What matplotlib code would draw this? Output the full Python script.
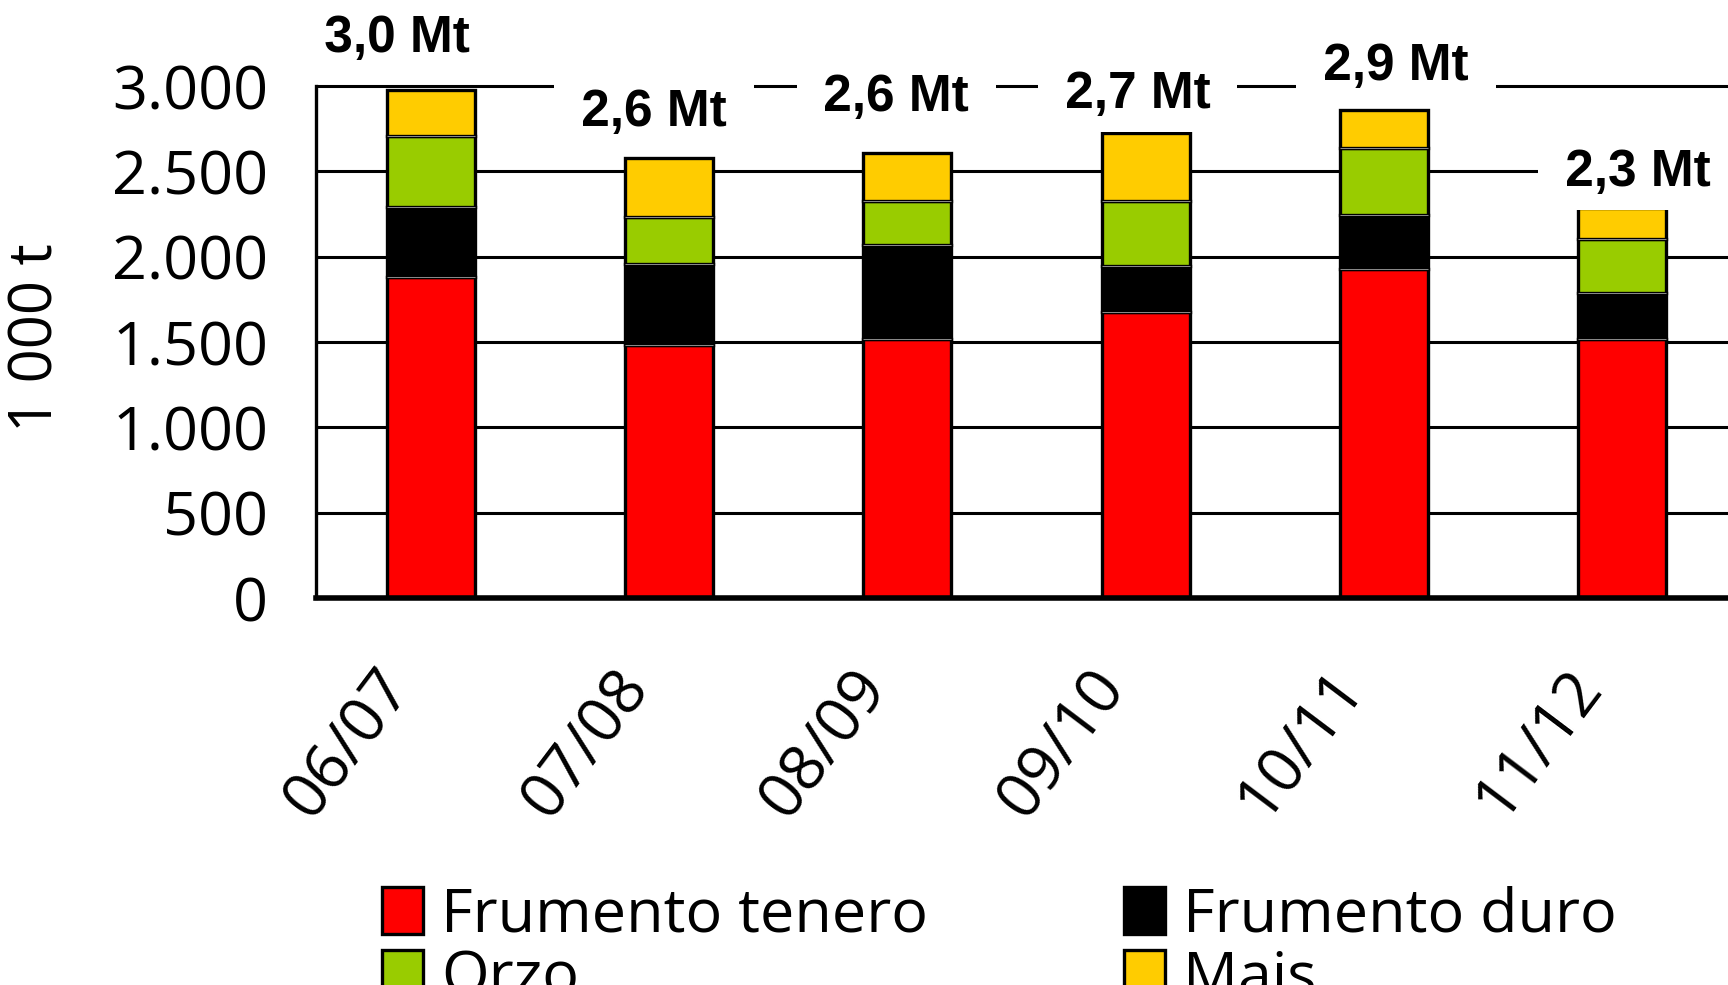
import matplotlib
matplotlib.use('Agg')
import matplotlib.pyplot as plt
import matplotlib.transforms as mtransforms
from matplotlib.patches import Patch
from matplotlib.ticker import FuncFormatter
import numpy as np

# data (1 000 t)
campagne = ['06/07', '07/08', '08/09', '09/10', '10/11', '11/12']
frumento_tenero = [1880, 1480, 1520, 1675, 1925, 1520]
frumento_duro = [410, 475, 550, 270, 320, 270]
orzo = [415, 275, 255, 380, 390, 315]
mais = [270, 350, 285, 400, 225, 180]

nomi = ['Frumento tenero', 'Frumento duro', 'Orzo', 'Mais']
colori = ['#ff0000', '#000000', '#99cc00', '#ffcc00']

# where the "x,x Mt" labels sit (layout only)
label_dx = [-0.143, -0.063, -0.046, -0.034, 0.05, 0.067]
label_y = [3201, 2768, 2853, 2870, 3037, 2416]

plt.rcParams['font.family'] = ['Open Sans', 'DejaVu Sans']

fig = plt.figure(figsize=(17.28, 9.85), dpi=100)
ax = fig.add_axes([316 / 1728, 1 - 598 / 985, 1 - 316 / 1728, 512 / 985])

x = np.arange(len(campagne))
w = 0.37
xmin, xmax = -0.483, 5.445
yticks = list(range(0, 3001, 500))

# horizontal grid, kept visible at the top edge too
ax.hlines(yticks[1:], xmin, xmax, color='black', lw=2.2, zorder=1, clip_on=False)

bottom = np.zeros(len(campagne))
serie = [frumento_tenero, frumento_duro, orzo, mais]
for k, (vals, col) in enumerate(zip(serie, colori)):
    ax.bar(x, vals, w, bottom=bottom, color=col, edgecolor='black',
           linewidth=2.4, zorder=2)
    bottom = bottom + np.array(vals)
    if k < len(serie) - 1:
        ax.hlines(bottom, x - w / 2, x + w / 2, color='#8c8c8c', lw=0.7, zorder=3)

for i, tot in enumerate(bottom):
    txt = ' %s Mt ' % ('%.1f' % (tot / 1000)).replace('.', ',')
    ax.text(x[i] + label_dx[i], label_y[i], txt, ha='center', va='baseline',
            family='Liberation Sans', weight='bold', fontsize=37, zorder=5,
            clip_on=False,
            bbox=dict(boxstyle='square,pad=0.25', fc='white', ec='none'))

ax.set_xlim(xmin, xmax)
ax.set_ylim(0, 3000)
ax.set_yticks(yticks)
ax.yaxis.set_major_formatter(FuncFormatter(lambda v, p: f'{int(v):,}'.replace(',', '.')))
ax.tick_params(axis='y', length=0, pad=34.5, labelsize=44)
ax.tick_params(axis='x', length=0, pad=57, labelsize=45.5)
ax.set_xticks(x, campagne, rotation=53, ha='right', va='center', rotation_mode='anchor')
offset = mtransforms.ScaledTranslation(-32 / 100, 0, fig.dpi_scale_trans)
for lab in ax.get_xticklabels():
    lab.set_transform(lab.get_transform() + offset)

for s in ['top', 'right']:
    ax.spines[s].set_visible(False)
ax.spines['left'].set_linewidth(2.4)
ax.spines['bottom'].set_linewidth(4)

ax.set_ylabel('1 000 t', fontsize=43)
ax.yaxis.set_label_coords(-0.177, 0.508)

# legend, row by row: tenero | duro, orzo | mais
handles = [Patch(facecolor=c, edgecolor='black', linewidth=2.4) for c in colori]
order = [0, 2, 1, 3]
fig.legend([handles[i] for i in order], [nomi[i] for i in order], ncol=2,
           loc='upper left', bbox_to_anchor=(0.221, 0.101), frameon=False,
           fontsize=44, handlelength=0.67, handleheight=0.82, handletextpad=0.3,
           columnspacing=3.2, labelspacing=0.05, borderpad=0, borderaxespad=0)

fig.savefig('out.png', dpi=100)
